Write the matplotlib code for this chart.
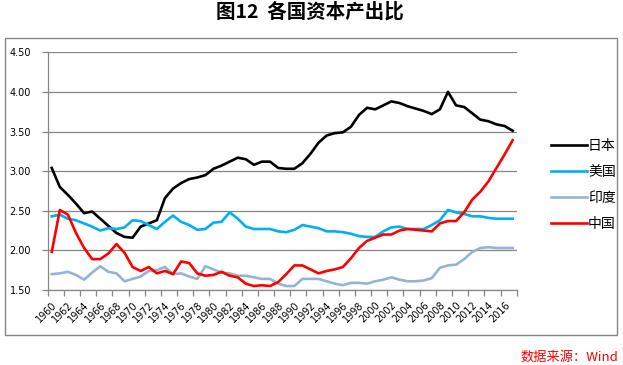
import matplotlib
matplotlib.use("Agg")
import matplotlib.pyplot as plt
import numpy as np
from matplotlib.patches import Rectangle

plt.rcParams['font.family'] = ['DejaVu Sans', 'Noto Sans CJK SC']

years = list(range(1960, 2018))
japan = [3.04, 2.80, 2.70, 2.59, 2.47, 2.49, 2.40, 2.31, 2.22, 2.17,
         2.16, 2.30, 2.34, 2.38, 2.66, 2.78, 2.85, 2.90, 2.92, 2.95,
         3.03, 3.07, 3.12, 3.17, 3.15, 3.08, 3.12, 3.12, 3.04, 3.03,
         3.03, 3.10, 3.22, 3.36, 3.45, 3.48, 3.49, 3.56, 3.71, 3.80,
         3.78, 3.83, 3.88, 3.86, 3.82, 3.79, 3.76, 3.72, 3.78, 4.00,
         3.83, 3.81, 3.73, 3.65, 3.63, 3.59, 3.57, 3.51]
usa = [2.43, 2.45, 2.40, 2.38, 2.34, 2.30, 2.25, 2.28, 2.27, 2.29,
       2.38, 2.37, 2.32, 2.27, 2.36, 2.44, 2.36, 2.32, 2.26, 2.27,
       2.35, 2.36, 2.48, 2.40, 2.30, 2.27, 2.27, 2.27, 2.24, 2.23,
       2.26, 2.32, 2.30, 2.28, 2.24, 2.24, 2.23, 2.21, 2.18, 2.17,
       2.17, 2.24, 2.29, 2.30, 2.27, 2.27, 2.27, 2.32, 2.38, 2.51,
       2.48, 2.46, 2.43, 2.43, 2.41, 2.40, 2.40, 2.40]
india = [1.70, 1.71, 1.73, 1.69, 1.63, 1.72, 1.80, 1.73, 1.71, 1.61,
         1.64, 1.67, 1.74, 1.75, 1.79, 1.70, 1.71, 1.67, 1.64, 1.80,
         1.76, 1.72, 1.71, 1.68, 1.68, 1.66, 1.64, 1.64, 1.58, 1.55,
         1.55, 1.64, 1.64, 1.64, 1.61, 1.58, 1.56, 1.59, 1.59, 1.58,
         1.61, 1.63, 1.66, 1.63, 1.61, 1.61, 1.62, 1.65, 1.78, 1.81,
         1.82, 1.89, 1.98, 2.03, 2.04, 2.03, 2.03, 2.03]
china = [1.98, 2.51, 2.45, 2.22, 2.03, 1.89, 1.89, 1.96, 2.08, 1.97,
         1.79, 1.74, 1.79, 1.71, 1.74, 1.70, 1.86, 1.84, 1.71, 1.68,
         1.69, 1.73, 1.68, 1.66, 1.58, 1.55, 1.56, 1.55, 1.60, 1.70,
         1.81, 1.81, 1.76, 1.71, 1.74, 1.76, 1.79, 1.90, 2.03, 2.12,
         2.16, 2.20, 2.20, 2.25, 2.27, 2.26, 2.25, 2.24, 2.34, 2.37,
         2.37, 2.48, 2.64, 2.74, 2.87, 3.04, 3.21, 3.39]

series_names = ['日本', '美国', '印度', '中国']
series_colors = ['#000000', '#00B0F0', '#95B3D7', '#FF0000']
y_ticks = [1.50, 2.00, 2.50, 3.00, 3.50, 4.00, 4.50]
title = '图12  各国资本产出比'
source = '数据来源：Wind'

W, H = 623, 365
fig = plt.figure(figsize=(W / 100, H / 100), dpi=100)
fig.patch.set_facecolor('white')

# chart area border
fig.patches.append(Rectangle((5 / W, 1 - 335 / H), (617 - 5) / W, (335 - 38) / H,
                             transform=fig.transFigure, fill=False,
                             edgecolor='#868686', linewidth=1.0))

ax = fig.add_axes([47.7 / W, 1 - 290 / H, (516.7 - 47.7) / W, (290 - 52.3) / H])
x = np.arange(len(years))
data = [japan, usa, india, china]
lines = []
for vals, name, col in zip(data, series_names, series_colors):
    ln, = ax.plot(x, vals, color=col, lw=1.9, label=name, solid_joinstyle='round')
    lines.append(ln)

ax.set_xlim(-0.5, len(years) - 0.5)
ax.set_ylim(1.5, 4.5)
ax.set_yticks(y_ticks)
ax.set_yticklabels([f'{v:.2f}' for v in y_ticks], fontsize=7)
ax.yaxis.grid(True, color='#868686', lw=0.9)
ax.set_axisbelow(True)
for s in ['top', 'right']:
    ax.spines[s].set_visible(False)
for s in ['left', 'bottom']:
    ax.spines[s].set_color('#868686')
    ax.spines[s].set_linewidth(0.9)
ax.tick_params(axis='y', length=4, width=0.9, color='#868686', pad=8)

# x ticks at boundaries every 2 categories, labels at centers
ax.set_xticks(np.arange(-0.5, len(years), 2))
ax.set_xticklabels([])
ax.tick_params(axis='x', which='major', length=4, width=0.9, color='#868686', direction='out')
ax.set_xticks(x[::2], minor=True)
ax.set_xticklabels([str(y) for y in years[::2]], minor=True, fontsize=7,
                   rotation=45, ha='right', va='top', rotation_mode='anchor')
ax.tick_params(axis='x', which='minor', length=0, pad=7)

leg = fig.legend(handles=lines, labels=series_names, loc='center left',
                 bbox_to_anchor=(538 / W, 1 - 185 / H), frameon=False,
                 prop={'family': ['Noto Sans CJK SC'], 'size': 10},
                 handlelength=2.6, handletextpad=0.1, labelspacing=0.85)

fig.text(310 / W, 1 - 12 / H, title, ha='center', va='center',
         fontsize=14, fontweight='bold', family=['Noto Sans CJK SC', 'DejaVu Sans'])
fig.text(618 / W, 1 - 357 / H, source, ha='right', va='center',
         fontsize=9.5, color='#FF0000', style='italic',
         family=['Noto Sans CJK SC', 'DejaVu Sans'])

fig.savefig('out.png', dpi=100)
